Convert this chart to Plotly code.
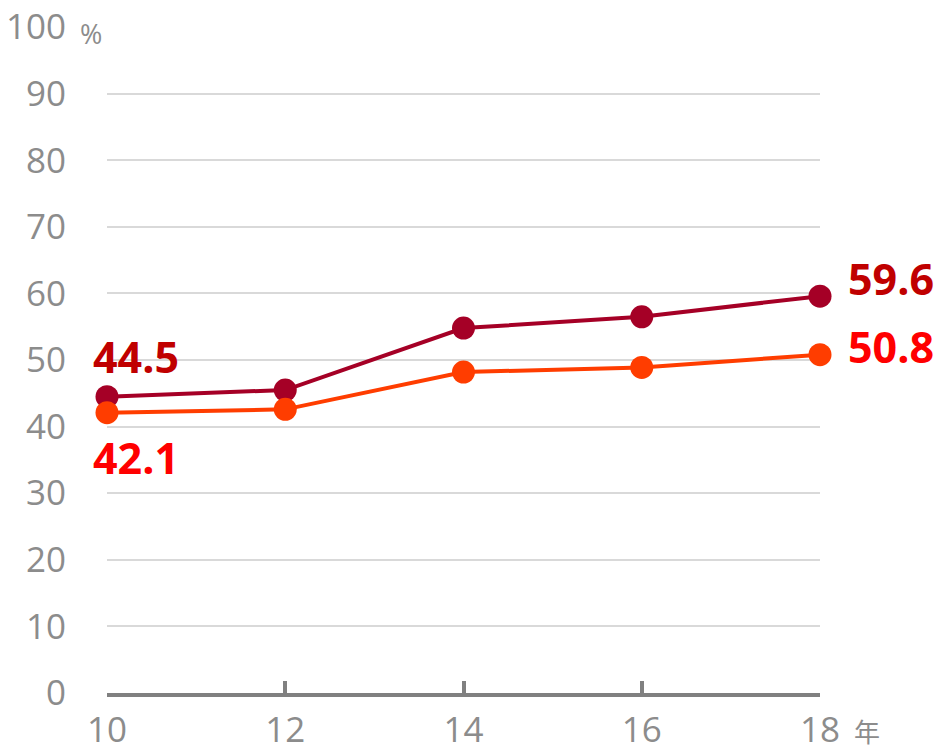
import plotly.graph_objects as go

years = [10, 12, 14, 16, 18]
series_a = [44.5, 45.5, 54.8, 56.5, 59.6]
series_b = [42.1, 42.6, 48.2, 48.9, 50.8]
y_ticks = [0, 10, 20, 30, 40, 50, 60, 70, 80, 90, 100]
x_ticks = [10, 12, 14, 16, 18]

FONT = "Open Sans"
fig = go.Figure()
fig.add_trace(go.Scatter(x=years, y=series_a, mode="lines+markers",
                         line=dict(color="#a50026", width=4),
                         marker=dict(color="#a50026", size=23), cliponaxis=False))
fig.add_trace(go.Scatter(x=years, y=series_b, mode="lines+markers",
                         line=dict(color="#ff3d00", width=4),
                         marker=dict(color="#ff3d00", size=23), cliponaxis=False))

annos = [
    dict(x=years[0], y=series_a[0], text=f"{series_a[0]}", color="#c00000", xshift=-16, yshift=40),
    dict(x=years[0], y=series_b[0], text=f"{series_b[0]}", color="#ff0000", xshift=-16, yshift=-45),
    dict(x=years[-1], y=series_a[-1], text=f"{series_a[-1]}", color="#c00000", xshift=26, yshift=18),
    dict(x=years[-1], y=series_b[-1], text=f"{series_b[-1]}", color="#ff0000", xshift=26, yshift=8),
]
for a in annos:
    fig.add_annotation(x=a["x"], y=a["y"], text=f"<b>{a['text']}</b>", showarrow=False,
                       xanchor="left", yanchor="middle", xshift=a["xshift"], yshift=a["yshift"],
                       font=dict(family=FONT, size=43, color=a["color"]))

fig.add_annotation(x=0, xref="paper", y=100, yref="y", text="%", showarrow=False,
                   xanchor="right", yanchor="middle", xshift=-3, yshift=-6,
                   font=dict(family=FONT, size=27, color="#8c8c8c"))
fig.add_annotation(x=18, xref="x", y=0, yref="paper", text="年", showarrow=False,
                   xanchor="left", yanchor="middle", xshift=32, yshift=-37,
                   font=dict(family="Noto Sans CJK JP", size=26, color="#8c8c8c"))

fig.update_layout(
    width=939, height=752,
    margin=dict(l=107, r=119, t=27, b=59),
    paper_bgcolor="white", plot_bgcolor="white",
    showlegend=False,
    font=dict(family=FONT, color="#8c8c8c"),
    xaxis=dict(range=[10, 18], tickvals=x_ticks, ticktext=[str(v) for v in x_ticks],
               showgrid=False, zeroline=False, showline=True, linecolor="#808080", linewidth=4,
               ticks="inside", ticklen=12, tickwidth=4, tickcolor="#808080", automargin=False,
               tickfont=dict(size=35, color="#8c8c8c", family=FONT), ticklabelstandoff=3),
    yaxis=dict(range=[0, 100.02], tickvals=y_ticks, ticktext=[str(v) for v in y_ticks],
               showgrid=True, gridcolor="#d9d9d9", gridwidth=2, zeroline=False, showline=False,
               ticks="", automargin=False, ticklabeloverflow="allow",
               tickfont=dict(size=35, color="#8c8c8c", family=FONT), ticklabelstandoff=40),
)
fig.write_html("out.html", config={"displayModeBar": False},
               post_script="document.body.style.margin='0';document.body.style.overflow='hidden';")
